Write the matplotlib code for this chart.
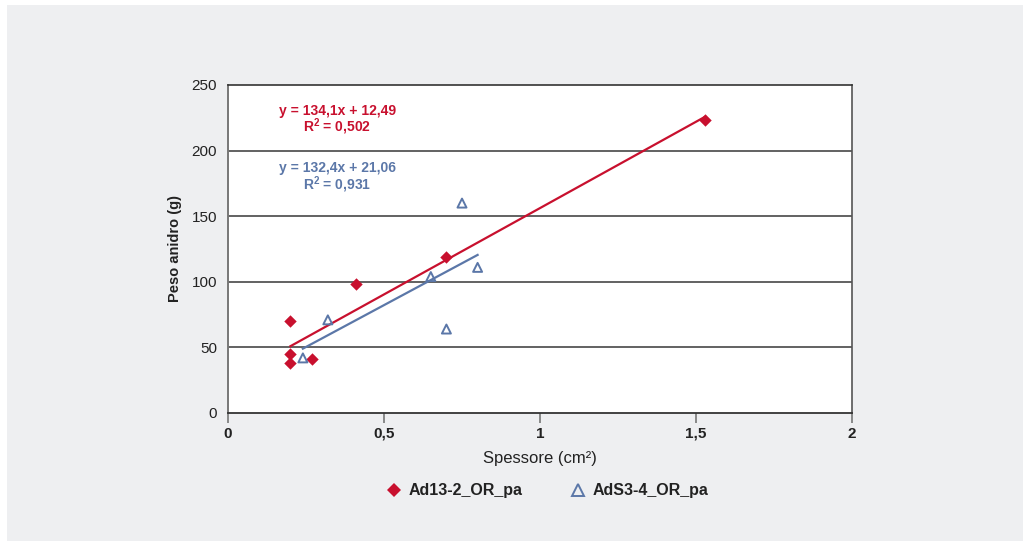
import numpy as np
import matplotlib.pyplot as plt
from matplotlib.patches import Rectangle
from matplotlib.lines import Line2D

plt.rcParams['font.family'] = ['Liberation Sans', 'DejaVu Sans']
plt.rcParams['mathtext.fontset'] = 'custom'
plt.rcParams['mathtext.rm'] = 'Liberation Sans'
plt.rcParams['mathtext.bf'] = 'Liberation Sans:bold'

# Ad13-2_OR_pa
red_x = [0.20, 0.20, 0.20, 0.27, 0.41, 0.70, 1.53]
red_y = [70, 45, 38, 41, 98, 119, 223]
# AdS3-4_OR_pa
blue_x = [0.24, 0.32, 0.65, 0.70, 0.75, 0.80]
blue_y = [42, 71, 104, 64, 160, 111]

red_eq = ["y = 134,1x + 12,49", r"R$^\mathbf{2}$ = 0,502"]
blue_eq = ["y = 132,4x + 21,06", r"R$^\mathbf{2}$ = 0,931"]

red = '#c8102e'
blue = '#5b77a8'
bg = '#eeeff1'

fig = plt.figure(figsize=(10.23, 5.41), dpi=100, facecolor='white')
fig.patches.append(Rectangle((7 / 1023, 0), 1, 1 - 5 / 541, transform=fig.transFigure,
                             facecolor=bg, edgecolor='none', zorder=-10))

ax = fig.add_axes([228 / 1023, 1 - 413 / 541, 624 / 1023, 328 / 541])
ax.set_facecolor('white')

ax.set_xlim(0, 2)
ax.set_ylim(0, 250)
ax.set_xticks([0, 0.5, 1, 1.5, 2])
ax.set_xticklabels(['0', '0,5', '1', '1,5', '2'], fontweight='bold', fontsize=11, color='#222222')
ax.set_yticks([0, 50, 100, 150, 200, 250])
ax.set_yticklabels(['0', '50', '100', '150', '200', '250'], fontsize=11, color='#222222')
ax.tick_params(axis='x', length=7, width=1.2, color='#777777', pad=3, direction='out')
ax.tick_params(axis='y', length=0, pad=8)

for y in [50, 100, 150, 200]:
    ax.axhline(y, color='#555555', lw=1.3, zorder=1)

ax.spines['left'].set_color('#777777')
ax.spines['left'].set_linewidth(1.4)
ax.spines['bottom'].set_color('#333333')
ax.spines['bottom'].set_linewidth(1.3)
ax.spines['top'].set_color('#333333')
ax.spines['top'].set_linewidth(1.2)
ax.spines['right'].set_color('#555555')
ax.spines['right'].set_linewidth(1.2)

# trend lines
for xs, ys, c in [(red_x, red_y, red), (blue_x, blue_y, blue)]:
    k, b = np.polyfit(xs, ys, 1)
    xl = np.array([min(xs), max(xs)])
    ax.plot(xl, k * xl + b, color=c, lw=1.6, zorder=3)

ax.scatter(red_x, red_y, marker='D', s=40, color=red, zorder=4, linewidths=0)
ax.scatter(blue_x, blue_y, marker='^', s=42, facecolors='none', edgecolors=blue,
           linewidths=1.4, zorder=4)

ax.text(0.35, 230.5, red_eq[0], color=red, fontsize=10, fontweight='bold', ha='center', va='center')
ax.text(0.35, 218, red_eq[1], color=red, fontsize=10, fontweight='bold', ha='center', va='center')
ax.text(0.35, 187, blue_eq[0], color=blue, fontsize=10, fontweight='bold', ha='center', va='center')
ax.text(0.35, 174, blue_eq[1], color=blue, fontsize=10, fontweight='bold', ha='center', va='center')

ax.set_xlabel('Spessore (cm²)', fontsize=12, color='#222222', labelpad=7)
ax.set_ylabel('Peso anidro (g)', fontsize=10.5, fontweight='bold', color='#222222', labelpad=7)

handles = [
    Line2D([], [], marker='D', ls='none', color=red, markersize=7, markeredgewidth=0),
    Line2D([], [], marker='^', ls='none', markerfacecolor='none', markeredgecolor=blue,
           markersize=8, markeredgewidth=1.4),
]
fig.legend(handles, ['Ad13-2_OR_pa', 'AdS3-4_OR_pa'], loc='center',
           bbox_to_anchor=(547 / 1023, 1 - 491 / 541), ncol=2, frameon=False,
           prop={'weight': 'bold', 'size': 11.5}, columnspacing=3.0, handlelength=1.0,
           handletextpad=0.4, labelcolor='#222222')

fig.savefig('out.png', dpi=100, facecolor=fig.get_facecolor())
